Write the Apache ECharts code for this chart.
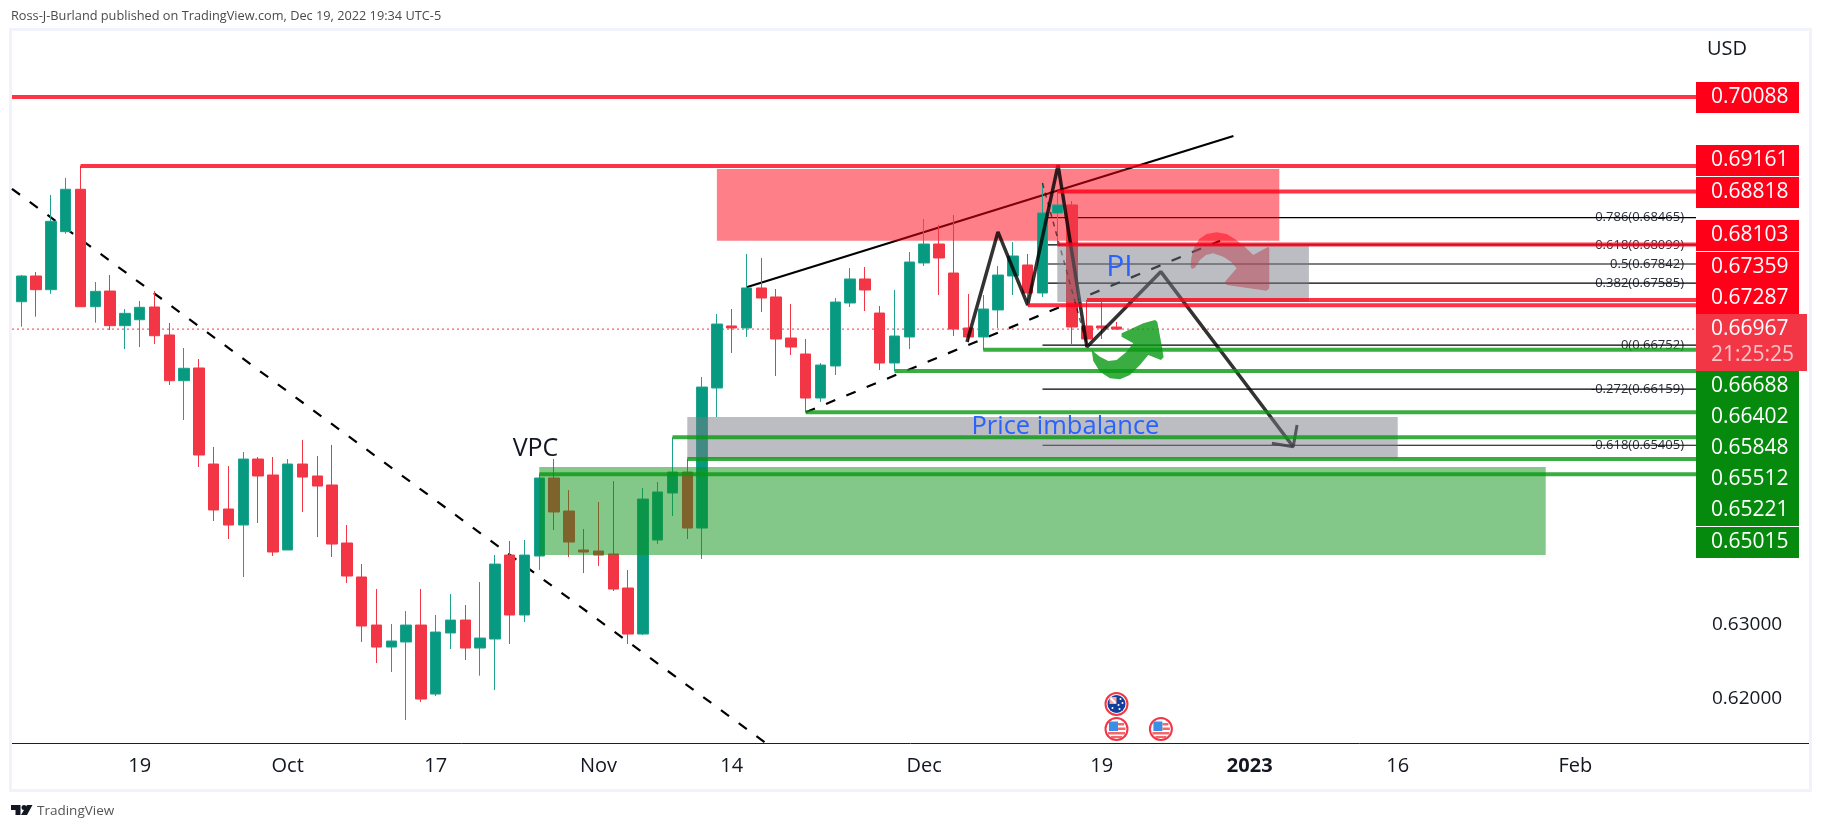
<!DOCTYPE html>
<html>
<head>
<meta charset="utf-8">
<style>html,body{margin:0;padding:0;background:#fff}#c{width:1824px;height:830px}</style>
<script src="https://cdn.jsdelivr.net/npm/echarts@6/dist/echarts.min.js"></script>
</head>
<body>
<div id="c"></div>
<script>
// ---------- candles: one entry per trading day from 7 Sep 2022 (bar 0) ----------
const opens = [0.67335,0.67681,0.67497,0.68277,0.68847,0.67268,0.67479,0.67013,0.67093,0.67264,0.66888,0.66273,0.66444,0.65153,0.64548,0.64333,0.65220,0.65005,0.63997,0.65153,0.64992,0.64871,0.64091,0.63634,0.62988,0.62692,0.62760,0.62988,0.62060,0.62881,0.63055,0.62679,0.62800,0.63929,0.63123,0.63916,0.64965,0.64521,0.63997,0.63983,0.63943,0.63486,0.62867,0.64131,0.64763,0.65045,0.64292,0.66175,0.67009,0.66982,0.67520,0.67399,0.66847,0.66632,0.66040,0.66471,0.67318,0.67641,0.67183,0.66511,0.66861,0.67856,0.68111,0.67721,0.66982,0.66861,0.67224,0.67681,0.67829,0.67452,0.68528,0.68636,0.67009,0.67009,0.66995];
const closes = [0.67681,0.67497,0.68416,0.68847,0.67268,0.67475,0.67013,0.67179,0.67260,0.66878,0.66273,0.66440,0.65274,0.64535,0.64333,0.65220,0.64992,0.63970,0.65153,0.64978,0.64857,0.64077,0.63647,0.62975,0.62692,0.62773,0.62988,0.61993,0.62894,0.63055,0.62679,0.62813,0.63808,0.63123,0.63929,0.64965,0.64508,0.64104,0.63970,0.63929,0.63472,0.62867,0.64682,0.64777,0.65045,0.64292,0.66188,0.67035,0.66982,0.67520,0.67385,0.66834,0.66726,0.66040,0.66484,0.67331,0.67641,0.67493,0.66511,0.66874,0.67869,0.68111,0.67923,0.66968,0.66861,0.67237,0.67694,0.67950,0.67452,0.68528,0.68636,0.66995,0.66834,0.66982,0.66967];
const lows = [0.66999,0.67134,0.67443,0.68250,0.67268,0.67053,0.66955,0.66699,0.66726,0.66767,0.66215,0.65745,0.65113,0.64387,0.64145,0.63634,0.64360,0.63916,0.63997,0.64508,0.64171,0.63903,0.63553,0.62760,0.62477,0.62356,0.61711,0.61953,0.62034,0.62666,0.62517,0.62307,0.62114,0.62733,0.63029,0.63728,0.64266,0.63903,0.63687,0.63782,0.63445,0.62733,0.62854,0.64077,0.64454,0.64145,0.63876,0.65785,0.66646,0.66861,0.67197,0.66336,0.66619,0.65848,0.65987,0.66350,0.67264,0.67210,0.66417,0.66402,0.66699,0.67815,0.67425,0.66874,0.66793,0.66688,0.66982,0.67425,0.67287,0.67399,0.68103,0.66767,0.66752,0.66834,0.66955];
const highs = [0.67694,0.67735,0.68770,0.68999,0.69161,0.67600,0.67694,0.67237,0.67345,0.67479,0.67049,0.66713,0.66565,0.65382,0.65126,0.65314,0.65247,0.65247,0.65220,0.65476,0.65261,0.65409,0.64333,0.63808,0.63472,0.63002,0.63176,0.63472,0.63123,0.63405,0.63257,0.63566,0.63929,0.64118,0.64131,0.65015,0.65220,0.64803,0.64279,0.64642,0.64924,0.63728,0.64830,0.64911,0.65512,0.65221,0.66323,0.67170,0.67237,0.67977,0.67923,0.67506,0.67304,0.66834,0.66511,0.67385,0.67788,0.67802,0.67278,0.67493,0.68004,0.68447,0.68367,0.68501,0.67439,0.67425,0.67815,0.68138,0.67977,0.68931,0.68818,0.68689,0.67359,0.67331,0.67062];
const lastPrice = 0.66967;

// ---------- axes ----------
const tickBars = [8,18,28,39,48,61,73,83,93,105];
const tickLabels = ['19','Oct','17','Nov','14','Dec','19','2023','16','Feb'];
const priceTicks = [0.62,0.63];

// ---------- horizontal levels ----------
const redLevels = [0.70088,0.69161,0.68818,0.68103,0.67359,0.67287];
const redLevelStarts = [-0.63,4,70,70,72,68];
const greenLevels = [0.66688,0.66402,0.65848,0.65512,0.65221,0.65015];
const greenLevelStarts = [65,59,53,44,45,35];

// ---------- fibonacci ----------
const fibRatios = ['0.786','0.618','0.5','0.382','0','-0.272','-0.618'];
const fibPrices = [0.68465,0.68099,0.67842,0.67585,0.66752,0.66159,0.65405];
const fibStart = 69;

// ---------- zones (the first one sits under the candles, the others over them) ----------
const zoneStart = [47,70,45,35];
const zoneEnd = [85,87,93,103];
const zoneTop = [0.69120,0.68091,0.65785,0.65113];
const zoneBottom = [0.68156,0.67331,0.65224,0.63929];

// ---------- drawn lines (bar, price) ----------
const fallingTrend = [[-0.63,0.68853],[50.3,0.61402]];
const risingDashed = [[53,0.65848],[81,0.68156]];
const risingSolid = [[49,0.67529],[81.9,0.69563]];
const fibTrend = [[69,0.68931],[72,0.66752]];
const zigzag = [[63.9,0.66793],[65.99,0.68273],[68,0.67291],[70.05,0.69173],[72,0.66726],[76.99,0.67739],[85.94,0.65386]];
const arrowHead = [[84.5,0.65431],[85.94,0.65386],[86.2,0.65677]];

// ---------- annotation text ----------
const noteTexts = ['VPC','PI','Price imbalance'];
const noteBars = [33.2,73.3,64.2];
const notePrices = [0.65355,0.67802,0.65655];

// ---------- price tags ----------
const tagTexts = ['0.70088','0.69161','0.68818','0.68103','0.67359','0.67287','0.66688','0.66402','0.65848','0.65512','0.65221','0.65015'];
const tagKinds = ['r','r','r','r','r','r','g','g','g','g','g','g'];
const countdown = '21:25:25';
const eventBars = [74,74,77];
const eventKinds = ['au','us','us'];

const XMIN=-0.628, XMAX=113.155, YMIN=0.61402, YMAX=0.70975;
const FONT='"Open Sans","Noto Sans",sans-serif';
const RED='rgba(255,0,25,0.8)', GREEN='rgba(8,153,17,0.8)';
const tagTops=[82,145,177,220,252,283,371,402,433,464,495,527];

const chart=echarts.init(document.getElementById('c'),null,{renderer:'canvas'});
const line=(data,color,width,z,type)=>({type:'line',data,symbol:'none',silent:true,animation:false,z,zlevel:0,
  lineStyle:{color,width,type:type||'solid',cap:'butt'},clip:true});

const series=[];
// below the red zone
series.push(line([[XMIN,lastPrice],[XMAX,lastPrice]],'#f23645',1,1,[2,3]));
series.push(line(fallingTrend,'#000',2.2,1,[10,12]));
series.push(line(risingDashed,'#000',2.2,1,[10,12]));
series.push(line(risingSolid,'#000',2.2,1));
fibPrices.forEach(p=>series.push(line([[fibStart,p],[XMAX,p]],'#000',1.2,1)));
series.push({type:'custom',z:1,silent:true,animation:false,clip:false,
  data:fibPrices.map((p,i)=>[XMAX,p,i]),encode:{x:0,y:1},
  renderItem:(params,api)=>{const c=api.coord([api.value(0),api.value(1)]);const i=api.value(2);
    return {type:'text',x:c[0]-8,y:c[1],style:{text:fibRatios[i]+'('+fibPrices[i].toFixed(5)+')',font:'13px '+FONT,fill:'#2a2e39',
      align:'right',verticalAlign:'middle',backgroundColor:'#fff',padding:[2,4,2,7]}};}});
const zoneSeries=(indices,z)=>({type:'custom',z,silent:true,animation:false,
  data:indices.map(i=>[zoneStart[i],zoneTop[i],zoneEnd[i],zoneBottom[i],i]),encode:{x:[0,2],y:[1,3]},
  renderItem:(params,api)=>{const a=api.coord([api.value(0),api.value(1)]),b=api.coord([api.value(2),api.value(3)]);
    const fills=['rgba(255,0,17,0.5)','rgba(120,123,134,0.5)','rgba(120,123,134,0.5)','rgba(10,145,20,0.5)'];
    return {type:'rect',shape:{x:a[0],y:a[1],width:b[0]-a[0],height:b[1]-a[1]},style:{fill:fills[api.value(4)]}};}});
series.push(zoneSeries([0],2));
series.push({type:'candlestick',z:3,barWidth:11,silent:true,animation:false,
  data:opens.map((o,i)=>[i,o,closes[i],lows[i],highs[i]]),
  itemStyle:{color:'#089981',color0:'#f23645',borderColor:'#1ea28d',borderColor0:'#f23645',borderColorDoji:'#f23645',borderWidth:1}});
// over the candles
series.push(line(fibTrend,'rgba(0,0,0,0.6)',1.5,4,[5,5]));
series.push(line(zigzag,'rgba(0,0,0,0.8)',3.5,4));
series.push(line(arrowHead,'rgba(0,0,0,0.8)',3,4));
const poly=(anchor,pts,color,z)=>({type:'custom',z,silent:true,animation:false,clip:false,data:[anchor],encode:{x:0,y:1},
  renderItem:(params,api)=>{const c=api.coord([api.value(0),api.value(1)]);
    return {type:'polygon',shape:{points:pts.map(p=>[c[0]+p[0]/3,c[1]+p[1]/3])},style:{fill:color}};}});
const redArrowOutline=[[332,125],[334,100],[342,68],[358,42],[380,27],[410,22],[440,27],[468,44],[495,66],[520,90],[565,65],[568,70],[568,190],[560,197],[440,180],[435,170],[470,130],[455,112],[430,95],[400,85],[378,90],[360,105],[345,128],[336,132]];
const greenArrowOutline=[[35,375],[40,408],[60,440],[90,460],[120,463],[150,450],[180,420],[205,390],[243,405],[251,397],[245,360],[232,290],[225,285],[190,295],[125,325],[125,335],[160,355],[140,380],[110,405],[85,408],[60,395]];
series.push(poly([71.53,0.68367],redArrowOutline,'rgba(255,0,17,0.5)',4));
series.push(zoneSeries([1,2,3],5));
redLevels.forEach((p,i)=>series.push(line([[redLevelStarts[i],p],[XMAX,p]],RED,4,6)));
greenLevels.forEach((p,i)=>series.push(line([[greenLevelStarts[i],p],[XMAX,p]],GREEN,4,6)));
series.push(poly([71.53,0.68367],greenArrowOutline,'rgba(8,153,17,0.8)',7));
// notes
const noteFonts=['25px','30px','25.5px'], noteColors=['#131722','#2962ff','#2962ff'];
series.push({type:'custom',z:8,silent:true,animation:false,clip:false,
  data:noteTexts.map((t,i)=>[noteBars[i],notePrices[i],i]),encode:{x:0,y:1},
  renderItem:(params,api)=>{const c=api.coord([api.value(0),api.value(1)]),i=api.value(2);
    return {type:'text',x:c[0],y:c[1],style:{text:noteTexts[i],font:noteFonts[i]+' '+FONT,fill:noteColors[i],align:'left',verticalAlign:'middle'}};}});
// calendar events
series.push({type:'custom',z:9,silent:true,animation:false,clip:false,
  data:eventBars.map((b,i)=>[b,YMIN,i]),encode:{x:0,y:1},
  renderItem:(params,api)=>{const c=api.coord([api.value(0),api.value(1)]),i=api.value(2);
    const kind=eventKinds[i];const x=c[0],y=c[1]-(kind==='au'?39:14);
    const kids=[{type:'circle',shape:{cx:x,cy:y,r:11},style:{fill:'#fff',stroke:'#f23645',lineWidth:2}}];
    if(kind==='us'){
      kids.push({type:'rect',shape:{x:x-7.5,y:y-7.5,width:9,height:9.5},style:{fill:'#3a8ee6'}});
      kids.push({type:'rect',shape:{x:x+1.5,y:y-6,width:6,height:2.5},style:{fill:'#f0686c'}});
      kids.push({type:'rect',shape:{x:x+1.5,y:y-1.5,width:7.5,height:2.5},style:{fill:'#f0686c'}});
      kids.push({type:'rect',shape:{x:x-8.5,y:y+3,width:17,height:2.5},style:{fill:'#f0686c'}});
      kids.push({type:'rect',shape:{x:x-5.5,y:y+7,width:11,height:2},style:{fill:'#f0686c'}});
    }else{
      kids.push({type:'circle',shape:{cx:x,cy:y,r:9},style:{fill:'#123f9c'}});
      kids.push({type:'rect',shape:{x:x-7,y:y-7,width:7,height:7},style:{fill:'#f4a9ad'}});
      kids.push({type:'line',shape:{x1:x-6,y1:y-6,x2:x-1,y2:y-1},style:{stroke:'#fff',lineWidth:2}});
      [[-4,4],[4,-5],[6,-1],[2,1],[3,5]].forEach(d=>kids.push({type:'circle',shape:{cx:x+d[0],cy:y+d[1],r:1},style:{fill:'#fff'}}));
    }
    return {type:'group',children:kids};}});

// graphic: frame, tags, header, footer
const g=[];
g.push({type:'rect',z:0,silent:true,shape:{x:10.5,y:29.5,width:1800,height:761},style:{fill:'none',stroke:'#f0f3fa',lineWidth:3}});
g.push({type:'line',z:20,silent:true,shape:{x1:12,y1:743.5,x2:1809,y2:743.5},style:{stroke:'#1c1f26',lineWidth:1}});
tagTexts.forEach((t,i)=>{
  g.push({type:'rect',z:30,silent:true,shape:{x:1696,y:tagTops[i],width:103,height:31},style:{fill:tagKinds[i]==='r'?'#ff0019':'#068a0e'}});
  g.push({type:'text',z:31,silent:true,x:1711,y:tagTops[i]+15.5,style:{text:t,font:'21px '+FONT,fill:'#fff',align:'left',verticalAlign:'middle'}});
});
g.push({type:'rect',z:32,silent:true,shape:{x:1696,y:314,width:111,height:57},style:{fill:'#f23645'}});
g.push({type:'text',z:33,silent:true,x:1711,y:329,style:{text:lastPrice.toFixed(5),font:'21px '+FONT,fill:'#fff',align:'left',verticalAlign:'middle'}});
g.push({type:'text',z:33,silent:true,x:1711,y:355,style:{text:countdown,font:'21px '+FONT,fill:'#fbc3c8',align:'left',verticalAlign:'middle'}});
g.push({type:'text',z:30,silent:true,x:1707,y:49,style:{text:'USD',font:'20px '+FONT,fill:'#131722',align:'left',verticalAlign:'middle'}});
g.push({type:'text',silent:true,x:11,y:16,style:{text:'Ross-J-Burland published on TradingView.com, Dec 19, 2022 19:34 UTC-5',font:'12.75px '+FONT,fill:'#4a4a4a',align:'left',verticalAlign:'middle'}});
g.push({type:'text',silent:true,x:37,y:811,style:{text:'TradingView',font:'13.5px '+FONT,fill:'#555',align:'left',verticalAlign:'middle'}});
g.push({type:'polygon',silent:true,shape:{points:[[11,805],[20.5,805],[20.5,815],[15.5,815],[15.5,810],[11,810]]},style:{fill:'#131722'}});
g.push({type:'circle',silent:true,shape:{cx:24,cy:807.5,r:2.5},style:{fill:'#131722'}});
g.push({type:'polygon',silent:true,shape:{points:[[27,805],[32.5,805],[27,815],[21,815]]},style:{fill:'#131722'}});

chart.setOption({
  animation:false,backgroundColor:'#fff',
  grid:{left:12,right:128,top:31,bottom:87,containLabel:false},
  xAxis:{type:'value',min:XMIN,max:XMAX,splitLine:{show:false},axisTick:{show:false},axisLine:{show:false},
    axisLabel:{customValues:tickBars,margin:13,color:'#131722',fontFamily:FONT,fontSize:20,
      rich:{yr:{fontWeight:'bold',fontSize:20,fontFamily:FONT,color:'#131722'}},
      formatter:v=>{const t=tickLabels[tickBars.indexOf(v)]||'';return t==='2023'?'{yr|2023}':t;}}},
  yAxis:{type:'value',position:'right',min:YMIN,max:YMAX,scale:true,splitLine:{show:false},axisTick:{show:false},axisLine:{show:false},
    axisLabel:{customValues:priceTicks,margin:16,color:'#131722',fontFamily:FONT,fontSize:19,formatter:v=>v.toFixed(5)}},
  series,graphic:g
});
</script>
</body>
</html>
